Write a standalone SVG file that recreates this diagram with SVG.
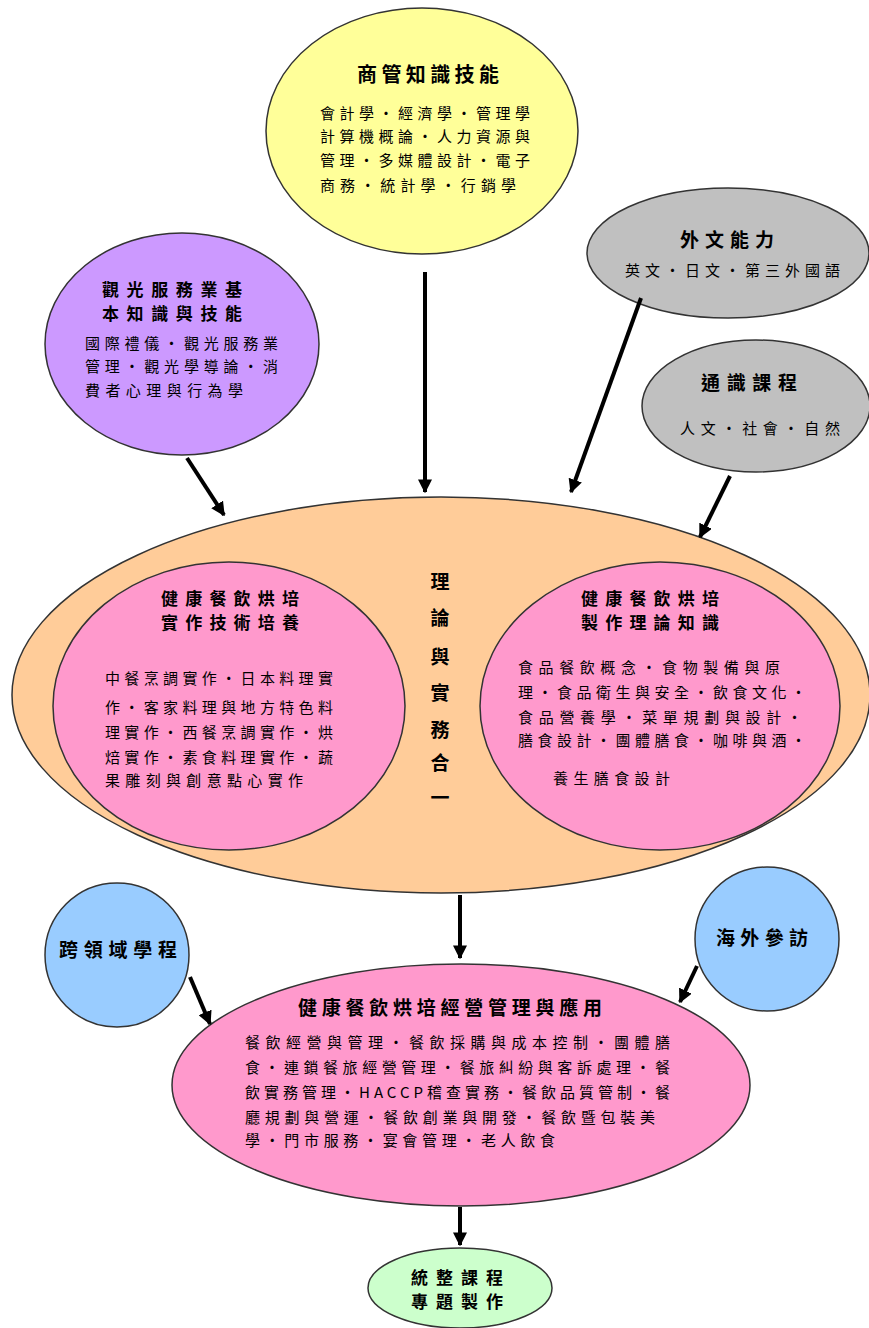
<svg xmlns="http://www.w3.org/2000/svg" width="869" height="1328" viewBox="0 0 869 1328">
<style>
.n{stroke:#333;stroke-width:1.5}
.t{font-family:"Noto Sans CJK TC","Noto Sans CJK SC",sans-serif;font-weight:bold;fill:#000;text-anchor:middle}
.b{font-family:"Noto Sans CJK TC","Noto Sans CJK SC",sans-serif;font-size:15px;fill:#000}
.c line{stroke:#000;stroke-width:4}
</style>
<defs>
<marker id="ah" viewBox="0 0 10 10" refX="9" refY="5" markerWidth="3.5" markerHeight="3.5" orient="auto" markerUnits="strokeWidth">
<path d="M0,0 L10,5 L0,10 z" fill="#000"/>
</marker>
</defs>
<rect width="869" height="1328" fill="#fff"/>

<g id="orange">
<ellipse class="n" cx="441" cy="695" rx="429" ry="198" fill="#FFCC99"/>
<g class="t" font-size="19">
<text x="440" y="589">理</text>
<text x="440" y="625">論</text>
<text x="440" y="664">與</text>
<text x="440" y="700">實</text>
<text x="440" y="737">務</text>
<text x="440" y="770">合</text>
<text x="440" y="805">一</text>
</g>
</g>

<g id="leftpink">
<ellipse class="n" cx="229" cy="706" rx="176" ry="144" fill="#FF99CC"/>
<text class="t" font-size="17" x="230" y="605" textLength="138" lengthAdjust="spacing">健康餐飲烘培</text>
<text class="t" font-size="17" x="230" y="629" textLength="138" lengthAdjust="spacing">實作技術培養</text>
<g class="b">
<text x="105" y="684" textLength="228" lengthAdjust="spacing">中餐烹調實作‧日本料理實</text>
<text x="105" y="713" textLength="228" lengthAdjust="spacing">作‧客家料理與地方特色料</text>
<text x="105" y="738" textLength="228" lengthAdjust="spacing">理實作‧西餐烹調實作‧烘</text>
<text x="105" y="763" textLength="228" lengthAdjust="spacing">焙實作‧素食料理實作‧蔬</text>
<text x="105" y="786" textLength="198" lengthAdjust="spacing">果雕刻與創意點心實作</text>
</g>
</g>

<g id="rightpink">
<ellipse class="n" cx="660" cy="706" rx="180" ry="144" fill="#FF99CC"/>
<text class="t" font-size="17" x="650" y="605" textLength="138" lengthAdjust="spacing">健康餐飲烘培</text>
<text class="t" font-size="17" x="650" y="629" textLength="138" lengthAdjust="spacing">製作理論知識</text>
<g class="b">
<text x="518" y="673" textLength="262" lengthAdjust="spacing">食品餐飲概念‧食物製備與原</text>
<text x="518" y="698" textLength="288" lengthAdjust="spacing">理‧食品衛生與安全‧飲食文化‧</text>
<text x="518" y="723" textLength="284" lengthAdjust="spacing">食品營養學‧菜單規劃與設計‧</text>
<text x="518" y="746" textLength="288" lengthAdjust="spacing">膳食設計‧團體膳食‧咖啡與酒‧</text>
<text x="553" y="784" textLength="117" lengthAdjust="spacing">養生膳食設計</text>
</g>
</g>

<g id="yellow">
<ellipse class="n" cx="422" cy="131" rx="156" ry="123" fill="#FFFF99"/>
<text class="t" font-size="20" x="428" y="82" textLength="142" lengthAdjust="spacing">商管知識技能</text>
<g class="b">
<text x="320" y="119" textLength="210" lengthAdjust="spacing">會計學‧經濟學‧管理學</text>
<text x="320" y="142" textLength="210" lengthAdjust="spacing">計算機概論‧人力資源與</text>
<text x="320" y="166" textLength="210" lengthAdjust="spacing">管理‧多媒體設計‧電子</text>
<text x="320" y="191" textLength="196" lengthAdjust="spacing">商務‧統計學‧行銷學</text>
</g>
</g>

<g id="purple">
<ellipse class="n" cx="182" cy="344" rx="137" ry="111" fill="#CC99FF"/>
<text class="t" font-size="17" x="172" y="296" textLength="140" lengthAdjust="spacing">觀光服務業基</text>
<text class="t" font-size="17" x="172" y="320" textLength="140" lengthAdjust="spacing">本知識與技能</text>
<g class="b">
<text x="85" y="349" textLength="193" lengthAdjust="spacing">國際禮儀‧觀光服務業</text>
<text x="85" y="372" textLength="193" lengthAdjust="spacing">管理‧觀光學導論‧消</text>
<text x="85" y="396" textLength="158" lengthAdjust="spacing">費者心理與行為學</text>
</g>
</g>

<g id="foreign">
<ellipse class="n" cx="728" cy="253" rx="141" ry="65" fill="#C0C0C0"/>
<text class="t" font-size="19" x="727" y="247" textLength="94" lengthAdjust="spacing">外文能力</text>
<text class="b" x="625" y="276" textLength="215" lengthAdjust="spacing">英文‧日文‧第三外國語</text>
</g>

<g id="general">
<ellipse class="n" cx="756" cy="406" rx="114" ry="66" fill="#C0C0C0"/>
<text class="t" font-size="19" x="749" y="390" textLength="96" lengthAdjust="spacing">通識課程</text>
<text class="b" x="680" y="434" textLength="160" lengthAdjust="spacing">人文‧社會‧自然</text>
</g>

<g id="cross">
<circle class="n" cx="117" cy="955" r="72" fill="#99CCFF"/>
<text class="t" font-size="19" x="118" y="957" textLength="118" lengthAdjust="spacing">跨領域學程</text>
</g>

<g id="abroad">
<circle class="n" cx="767" cy="939" r="72" fill="#99CCFF"/>
<text class="t" font-size="19" x="762" y="945" textLength="92" lengthAdjust="spacing">海外參訪</text>
</g>

<g id="bottompink">
<ellipse class="n" cx="461" cy="1085" rx="289" ry="121" fill="#FF99CC"/>
<text class="t" font-size="19" x="450" y="1015" textLength="304" lengthAdjust="spacing">健康餐飲烘培經營管理與應用</text>
<g class="b">
<text x="245" y="1048" textLength="425" lengthAdjust="spacing">餐飲經營與管理‧餐飲採購與成本控制‧團體膳</text>
<text x="245" y="1073" textLength="425" lengthAdjust="spacing">食‧連鎖餐旅經營管理‧餐旅糾紛與客訴處理‧餐</text>
<text x="245" y="1098" textLength="425" lengthAdjust="spacing">飲實務管理‧HACCP稽查實務‧餐飲品質管制‧餐</text>
<text x="245" y="1123" textLength="410" lengthAdjust="spacing">廳規劃與營運‧餐飲創業與開發‧餐飲暨包裝美</text>
<text x="245" y="1146" textLength="310" lengthAdjust="spacing">學‧門市服務‧宴會管理‧老人飲食</text>
</g>
</g>

<g id="green">
<ellipse class="n" cx="460" cy="1288" rx="92" ry="40" fill="#CCFFCC"/>
<text class="t" font-size="17" x="457" y="1284" textLength="92" lengthAdjust="spacing">統整課程</text>
<text class="t" font-size="17" x="457" y="1308" textLength="92" lengthAdjust="spacing">專題製作</text>
</g>

<g id="connectors" class="c">
<line x1="425" y1="272" x2="425" y2="492" marker-end="url(#ah)"/>
<line x1="187" y1="458" x2="224" y2="515" marker-end="url(#ah)"/>
<line x1="641" y1="298" x2="571" y2="492" marker-end="url(#ah)"/>
<line x1="730" y1="476" x2="700" y2="537" marker-end="url(#ah)"/>
<line x1="460" y1="895" x2="460" y2="958" marker-end="url(#ah)"/>
<line x1="190" y1="977" x2="210" y2="1024" marker-end="url(#ah)"/>
<line x1="697" y1="966" x2="680" y2="1002" marker-end="url(#ah)"/>
<line x1="460" y1="1207" x2="460" y2="1245" marker-end="url(#ah)"/>
</g>
</svg>
